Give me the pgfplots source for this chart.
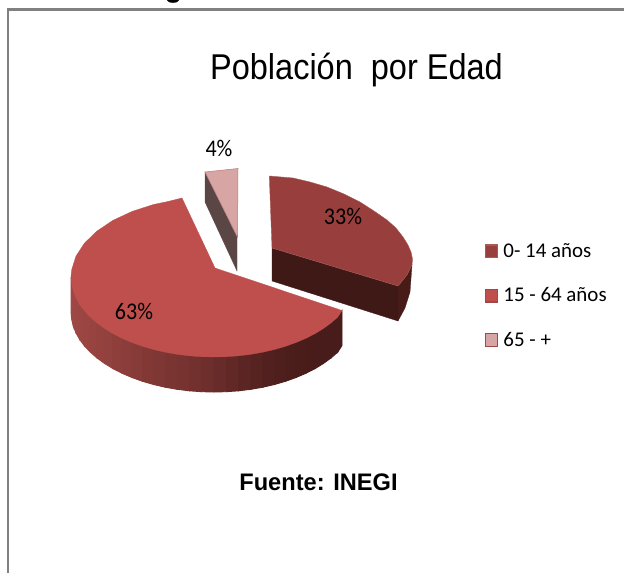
\documentclass[border=0pt]{standalone}
\usepackage{fontspec}
\usepackage{pgfplots}
\pgfplotsset{compat=1.18}
\setmainfont{Liberation Sans}
\newfontfamily\carlito{Carlito}
\definecolor{sideA}{RGB}{160,72,69}
\definecolor{sideB}{RGB}{72,28,26}
\definecolor{topA}{RGB}{152,62,60}
\definecolor{topB}{RGB}{190,79,76}
\definecolor{topC}{RGB}{214,165,164}
\definecolor{wallA}{RGB}{63,25,22}
\definecolor{wallA2}{RGB}{70,27,24}
\definecolor{wallC}{RGB}{90,70,68}
\newcommand{\strip}[2]{\addplot[forget plot,fill=sideB!#1!sideA,draw=sideB!#1!sideA,line width=0.9pt] coordinates {#2} -- cycle;}
\begin{document}
\begin{tikzpicture}[x=1bp,y=1bp]
\path[use as bounding box] (0,0) rectangle (624,573);
\begin{axis}[at={(0,0)},anchor=south west,scale only axis,width=624bp,height=573bp,
  xmin=0,xmax=624,ymin=0,ymax=573,y dir=reverse,hide axis,clip=false,
  legend style={at={(485/624,1-241.5/573)},anchor=north west,draw=none,fill=none,inner sep=0pt,outer sep=0pt,
    font={\carlito\fontsize{21}{24}\selectfont},row sep=24.8bp,cells={anchor=west}},
  legend image code/.code={\draw[#1,line width=1.4bp] (1bp,-6.3bp) rectangle (13bp,6.3bp);\path (16.5bp,0bp);},
  legend cell align=left]
% frame
\addplot[forget plot,color=gray,line width=2.4bp] coordinates {(8,573)(8,9.4)(624,9.4)};
% descender of a cut-off line above the frame
\addplot[forget plot,fill=black,draw=black,line width=0.2pt] coordinates {(167,0)(179,0)(177,2)(173,2.8)(169,2)} -- cycle;
% slice 0-14: walls
\addplot[forget plot,fill=wallA,draw=wallA,line width=0.3pt] coordinates {(272,248)(398,286)(398,321)(272,281)} -- cycle;
\addplot[forget plot,fill=wallA2,draw=wallA2,line width=0.3pt] coordinates {(398,286)(407,275)(412,265)(410,292)(405,308)(398,321)} -- cycle;
\addplot[fill=topA,draw=topA!85!white,line width=0.4pt] coordinates {(269.3,176)(293,178)(310,182)(327,187)(344,194)(360,202)(374,211)(387,220)(396,228)(403,237)(408,245)(411,252)(412.5,259)(412,265)(407,275)(398,286)(272,248)} -- cycle;
% slice 15-64: side strips
\strip{0}{(71,277)(71.6,284)(71.6,319)(71,312)}
\strip{1}{(71.6,284)(73.2,290.9)(73.2,325.9)(71.6,319)}
\strip{2}{(73.2,290.9)(75.9,297.7)(75.9,332.7)(73.2,325.9)}
\strip{3}{(75.9,297.7)(79.6,304.4)(79.6,339.4)(75.9,332.7)}
\strip{5}{(79.6,304.4)(84.4,310.8)(84.4,345.8)(79.6,339.4)}
\strip{7}{(84.4,310.8)(90.2,317)(90.2,352)(84.4,345.8)}
\strip{10}{(90.2,317)(96.9,322.9)(96.9,357.9)(90.2,352)}
\strip{13}{(96.9,322.9)(104.5,328.4)(104.5,363.4)(96.9,357.9)}
\strip{17}{(104.5,328.4)(112.9,333.6)(112.9,368.6)(104.5,363.4)}
\strip{20}{(112.9,333.6)(122.1,338.3)(122.1,373.3)(112.9,368.6)}
\strip{25}{(122.1,338.3)(131.9,342.5)(131.9,377.5)(122.1,373.3)}
\strip{29}{(131.9,342.5)(142.5,346.3)(142.5,381.3)(131.9,377.5)}
\strip{34}{(142.5,346.3)(153.5,349.5)(153.5,384.5)(142.5,381.3)}
\strip{39}{(153.5,349.5)(165.1,352.2)(165.1,387.2)(153.5,384.5)}
\strip{43}{(165.1,352.2)(177,354.3)(177,389.3)(165.1,387.2)}
\strip{48}{(177,354.3)(189.2,355.8)(189.2,390.8)(177,389.3)}
\strip{52}{(189.2,355.8)(201.5,356.7)(201.5,391.7)(189.2,390.8)}
\strip{58}{(201.5,356.7)(214,357)(214,392)(201.5,391.7)}
\strip{65}{(214,357)(226.5,356.7)(226.5,391.7)(214,392)}
\strip{72}{(226.5,356.7)(238.8,355.8)(238.8,390.8)(226.5,391.7)}
\strip{79}{(238.8,355.8)(251,354.3)(251,389.3)(238.8,390.8)}
\strip{84}{(251,354.3)(262.9,352.2)(262.9,387.2)(251,389.3)}
\strip{89}{(262.9,352.2)(274.5,349.5)(274.5,384.5)(262.9,387.2)}
\strip{93}{(274.5,349.5)(285.5,346.3)(285.5,381.3)(274.5,384.5)}
\strip{97}{(285.5,346.3)(296.1,342.5)(296.1,377.5)(285.5,381.3)}
\strip{98}{(296.1,342.5)(305.9,338.3)(305.9,373.3)(296.1,377.5)}
\strip{99}{(305.9,338.3)(315.1,333.6)(315.1,368.6)(305.9,373.3)}
\strip{100}{(315.1,333.6)(323.5,328.4)(323.5,363.4)(315.1,368.6)}
\strip{100}{(323.5,328.4)(331.1,322.9)(331.1,357.9)(323.5,363.4)}
\strip{100}{(331.1,322.9)(337.8,317)(337.8,352)(331.1,357.9)}
\strip{100}{(337.8,317)(342,310.5)(342,345.5)(337.8,352)}
% top of 15-64
\addplot[fill=topB,draw=topB,line width=0.3pt,legend image post style={draw=sideA}] coordinates {(215,268)(182,198)(168,201.5)(153.5,204.5)(131.9,211.5)(112.9,220.4)(96.9,231.1)(84.4,243.2)(75.9,256.3)(71.6,270)(71,277)(71.6,284)(73.2,290.9)(75.9,297.7)(79.6,304.4)(84.4,310.8)(90.2,317)(96.9,322.9)(104.5,328.4)(112.9,333.6)(122.1,338.3)(131.9,342.5)(142.5,346.3)(153.5,349.5)(165.1,352.2)(177,354.3)(189.2,355.8)(201.5,356.7)(214,357)(226.5,356.7)(238.8,355.8)(251,354.3)(262.9,352.2)(274.5,349.5)(285.5,346.3)(296.1,342.5)(305.9,338.3)(315.1,333.6)(323.5,328.4)(331.1,322.9)(337.8,317)(342,310.5)} -- cycle;
% slice 65+
\addplot[forget plot,fill=wallC,draw=wallC,line width=0.3pt] coordinates {(205,172)(237,237)(237,271)(205,202)} -- cycle;
\addplot[fill=topC,draw={rgb,255:red,190;green,120;blue,118},line width=0.5pt,legend image post style={draw=sideA}] coordinates {(205,172)(238,168.5)(237.5,237)} -- cycle;
\legend{0- 14 años,15 - 64 años,65 - +}
% texts
\node[font={\fontsize{36}{40}\selectfont},xscale=0.906,anchor=base] at (axis cs:356.5,80) {Población\ \ por Edad};
\node[font={\bfseries\fontsize{24}{28}\selectfont},anchor=base,xscale=0.987] at (axis cs:318.5,490) {Fuente: INEGI};
\node[font={\carlito\fontsize{24}{26}\selectfont},xscale=0.92,anchor=base] at (axis cs:343,225) {33\%};
\node[font={\carlito\fontsize{24}{26}\selectfont},xscale=0.92,anchor=base] at (axis cs:134,320) {63\%};
\node[font={\carlito\fontsize{24}{26}\selectfont},xscale=0.92,anchor=base] at (axis cs:219,157) {4\%};
\end{axis}
\end{tikzpicture}
\end{document}
